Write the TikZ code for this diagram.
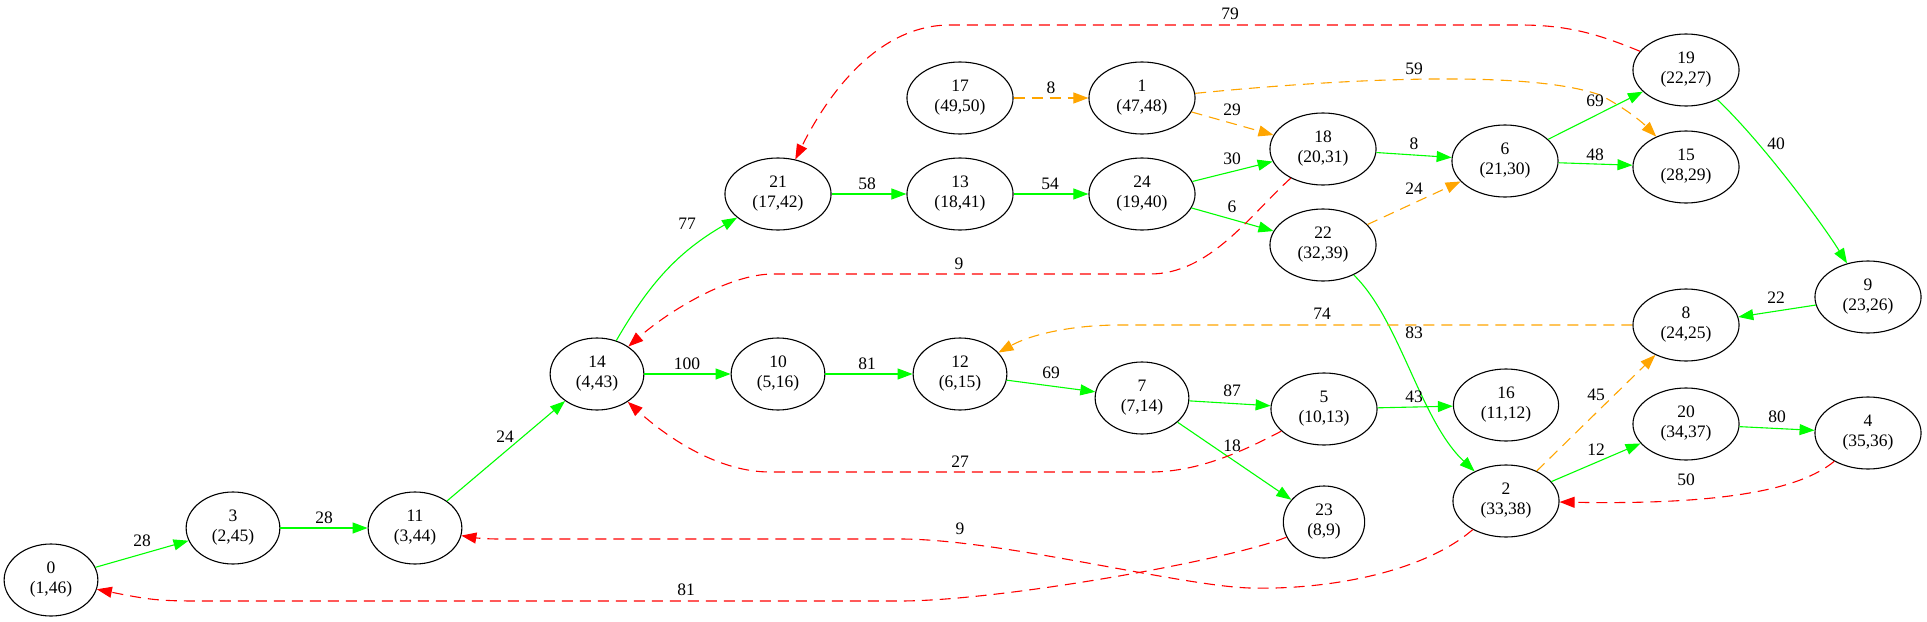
\documentclass[tikz,border=0pt]{standalone}
\usepackage{fontspec}
\setmainfont{Liberation Serif}
\usetikzlibrary{arrows.meta,shapes.geometric}

\definecolor{treegreen}{HTML}{00FF00}
\definecolor{backred}{HTML}{FF0000}
\definecolor{fwdorange}{HTML}{FFA500}

\begin{document}
\begin{tikzpicture}[x=1pt,y=-1pt,
    vtx/.style={draw, ellipse, line width=1.1pt, align=center, inner xsep=12pt,
      inner ysep=7pt, minimum height=72pt, font=\fontsize{17.5pt}{20pt}\selectfont},
    lbl/.style={inner sep=0pt, font=\fontsize{17.5pt}{20pt}\selectfont},
    conn/.style={line width=1.1pt, -{Triangle[length=15pt,width=11pt]}},
    tree/.style={conn, color=treegreen},
    fwd/.style={conn, color=fwdorange, dash pattern=on 11pt off 7pt},
    back/.style={conn, color=backred, dash pattern=on 11pt off 7pt}]

    \useasboundingbox (0,0) rectangle (1927,621);

    % --- vertices: id and (discovery,finish) ---
    \node[vtx] (n0)  at (51,580)   {0\\(1,46)};
    \node[vtx] (n3)  at (233,528)  {3\\(2,45)};
    \node[vtx] (n11) at (415,528)  {11\\(3,44)};
    \node[vtx] (n14) at (597,374)  {14\\(4,43)};
    \node[vtx] (n21) at (778,194)  {21\\(17,42)};
    \node[vtx] (n13) at (960,194)  {13\\(18,41)};
    \node[vtx] (n24) at (1142,194) {24\\(19,40)};
    \node[vtx] (n17) at (960,98)   {17\\(49,50)};
    \node[vtx] (n1)  at (1142,98)  {1\\(47,48)};
    \node[vtx] (n18) at (1323,149) {18\\(20,31)};
    \node[vtx] (n22) at (1323,245) {22\\(32,39)};
    \node[vtx] (n6)  at (1505,161) {6\\(21,30)};
    \node[vtx] (n15) at (1686,167) {15\\(28,29)};
    \node[vtx] (n19) at (1686,70)  {19\\(22,27)};
    \node[vtx] (n9)  at (1868,297) {9\\(23,26)};
    \node[vtx] (n8)  at (1686,325) {8\\(24,25)};
    \node[vtx] (n10) at (778,374)  {10\\(5,16)};
    \node[vtx] (n12) at (960,374)  {12\\(6,15)};
    \node[vtx] (n7)  at (1142,398) {7\\(7,14)};
    \node[vtx] (n5)  at (1324,409) {5\\(10,13)};
    \node[vtx] (n16) at (1506,405) {16\\(11,12)};
    \node[vtx] (n23) at (1324,522) {23\\(8,9)};
    \node[vtx] (n2)  at (1506,501) {2\\(33,38)};
    \node[vtx] (n20) at (1686,424) {20\\(34,37)};
    \node[vtx] (n4)  at (1868,433) {4\\(35,36)};

    % --- tree edges ---
    \draw[tree] (n0) -- (n3);
    \draw[tree] (n3) -- (n11);
    \draw[tree] (n11) -- (n14);
    \draw[tree] (n14) to[out=60,in=210] (n21);
    \draw[tree] (n14) -- (n10);
    \draw[tree] (n21) -- (n13);
    \draw[tree] (n13) -- (n24);
    \draw[tree] (n24) -- (n18);
    \draw[tree] (n24) -- (n22);
    \draw[tree] (n18) -- (n6);
    \draw[tree] (n6) -- (n19);
    \draw[tree] (n6) -- (n15);
    \draw[tree] (n19) .. controls (1760,140) and (1820,220) .. (n9);
    \draw[tree] (n9) -- (n8);
    \draw[tree] (n10) -- (n12);
    \draw[tree] (n12) -- (n7);
    \draw[tree] (n7) -- (n5);
    \draw[tree] (n7) -- (n23);
    \draw[tree] (n5) -- (n16);
    \draw[tree] (n22) .. controls (1400,320) and (1420,420) .. (n2);
    \draw[tree] (n2) -- (n20);
    \draw[tree] (n20) -- (n4);

    % --- forward / cross edges ---
    \draw[fwd] (n17) -- (n1);
    \draw[fwd] (n1) -- (n18);
    \draw[fwd] (n1.5) .. controls (1350,78) and (1530,70) .. (1600,95)
                      .. controls (1620,105) and (1640,120) .. (n15);
    \draw[fwd] (n22) -- (n6);
    \draw[fwd] (n8) -- (1120,325) .. controls (1070,325) and (1030,335) .. (n12);
    \draw[fwd] (n2) -- (n8);

    % --- back edges ---
    \draw[back] (n19) .. controls (1600,35) and (1570,25) .. (1520,25) -- (950,25)
                      .. controls (880,25) and (830,90) .. (n21);
    \draw[back] (n18) .. controls (1250,215) and (1210,274) .. (1150,274) -- (773,274)
                      .. controls (730,274) and (670,310) .. (n14);
    \draw[back] (n5) .. controls (1245,450) and (1200,472) .. (1150,472) -- (770,472)
                     .. controls (720,472) and (670,440) .. (n14);
    \draw[back] (n23) .. controls (1230,560) and (1000,601) .. (900,601) -- (200,601)
                      .. controls (160,601) and (150,600) .. (n0);
    \draw[back] (n2) .. controls (1420,575) and (1320,590) .. (1250,588)
                     .. controls (1180,586) and (1000,539) .. (900,539) -- (500,539)
                     .. controls (480,539) and (470,537) .. (n11);
    \draw[back] (n4) .. controls (1800,490) and (1720,505) .. (n2);

    % --- edge weights ---
    \node[lbl] (w0-3)   at (142,541)  {28};
    \node[lbl] (w3-11)  at (324,518)  {28};
    \node[lbl] (w11-14) at (505,437)  {24};
    \node[lbl] (w23-0)  at (686,590)  {81};
    \node[lbl] (w14-21) at (687,224)  {77};
    \node[lbl] (w14-10) at (687,364)  {100};
    \node[lbl] (w21-13) at (867,184)  {58};
    \node[lbl] (w13-24) at (1050,184) {54};
    \node[lbl] (w17-1)  at (1051,88)  {8};
    \node[lbl] (w1-18)  at (1232,110) {29};
    \node[lbl] (w24-18) at (1232,159) {30};
    \node[lbl] (w24-22) at (1232,207) {6};
    \node[lbl] (w18-14) at (959,264)  {9};
    \node[lbl] (w19-21) at (1230,14)  {79};
    \node[lbl] (w1-15)  at (1414,69)  {59};
    \node[lbl] (w18-6)  at (1414,144) {8};
    \node[lbl] (w22-6)  at (1414,189) {24};
    \node[lbl] (w6-19)  at (1595,101) {69};
    \node[lbl] (w6-15)  at (1595,155) {48};
    \node[lbl] (w19-9)  at (1776,144) {40};
    \node[lbl] (w9-8)   at (1776,298) {22};
    \node[lbl] (w8-12)  at (1322,314) {74};
    \node[lbl] (w22-2)  at (1414,333) {83};
    \node[lbl] (w10-12) at (867,364)  {81};
    \node[lbl] (w12-7)  at (1051,373) {69};
    \node[lbl] (w7-5)   at (1232,391) {87};
    \node[lbl] (w5-16)  at (1414,397) {43};
    \node[lbl] (w2-8)   at (1596,395) {45};
    \node[lbl] (w2-20)  at (1596,450) {12};
    \node[lbl] (w20-4)  at (1777,417) {80};
    \node[lbl] (w4-2)   at (1686,480) {50};
    \node[lbl] (w7-23)  at (1232,446) {18};
    \node[lbl] (w5-14)  at (960,462)  {27};
    \node[lbl] (w2-11)  at (960,529)  {9};

\end{tikzpicture}
\end{document}
